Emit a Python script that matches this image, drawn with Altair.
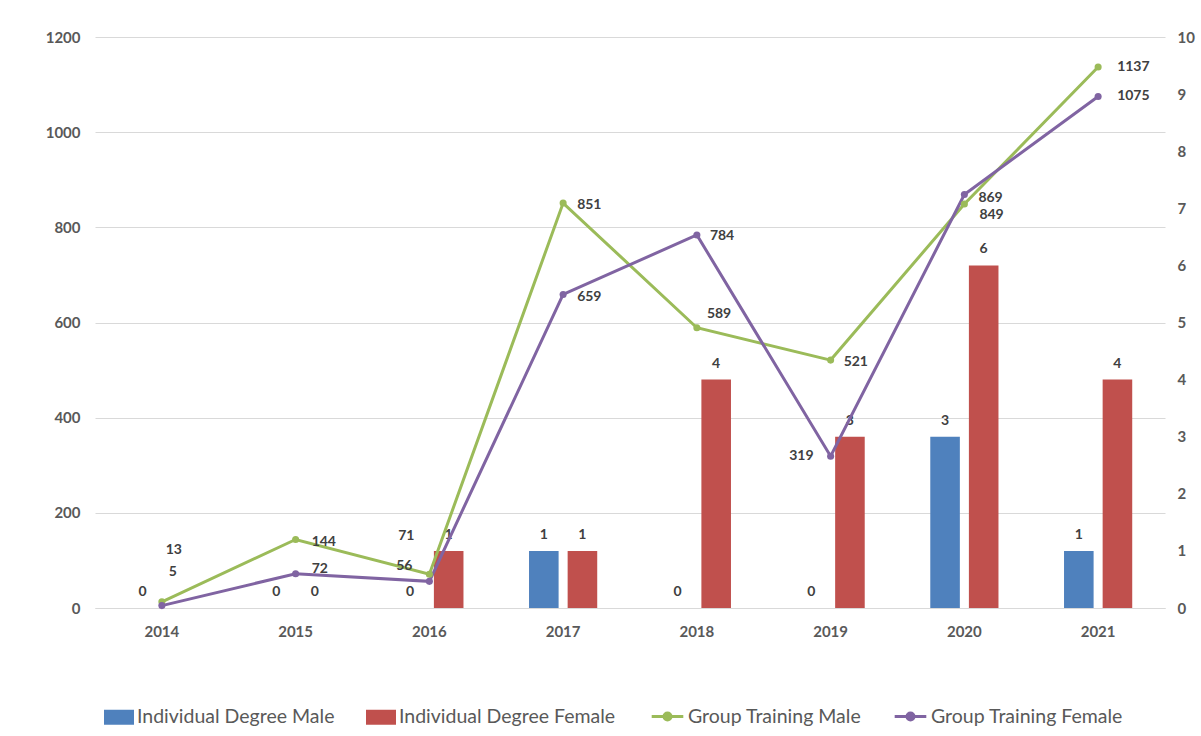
import altair as alt
import pandas as pd

years = ["2014", "2015", "2016", "2017", "2018", "2019", "2020", "2021"]
ind_male = [0, 0, 0, 1, 0, 0, 3, 1]
ind_female = [0, 0, 1, 1, 4, 3, 6, 4]
grp_male = [13, 144, 71, 851, 589, 521, 849, 1137]
grp_female = [5, 72, 56, 659, 784, 319, 869, 1075]

bar_series = ["Individual Degree Male", "Individual Degree Female"]
line_series = ["Group Training Male", "Group Training Female"]

bars_df = pd.DataFrame(
    [{"year": y, "series": bar_series[0], "gender": "Male", "value": v} for y, v in zip(years, ind_male)]
    + [{"year": y, "series": bar_series[1], "gender": "Female", "value": v} for y, v in zip(years, ind_female)]
)
lines_df = pd.DataFrame(
    [{"year": y, "series": line_series[0], "value": v} for y, v in zip(years, grp_male)]
    + [{"year": y, "series": line_series[1], "value": v} for y, v in zip(years, grp_female)]
)

FONT = "Lato"
TXT = "#404040"
AX = "#595959"

xscale = alt.Scale(paddingInner=0.4, paddingOuter=0.2)
xenc = alt.X("year:N", scale=xscale, sort=years,
             axis=alt.Axis(title=None, labelAngle=0, ticks=False, domain=True, domainColor="#D9D9D9",
                           labelFont=FONT, labelFontSize=15, labelFontWeight="bold", labelColor=AX,
                           labelPadding=16))
xoff = alt.XOffset("gender:N", sort=["Male", "Female"],
                   scale=alt.Scale(paddingInner=0.234, paddingOuter=0.156))

right_axis = alt.Axis(orient="right", title=None, grid=False, ticks=False, domain=False,
                      values=list(range(0, 11)), format="d", labelFont=FONT, labelFontSize=15,
                      labelFontWeight="bold", labelColor=AX, labelPadding=12)
yr = alt.Y("value:Q", scale=alt.Scale(domain=[0, 10], nice=False), axis=right_axis)

left_axis = alt.Axis(orient="left", title=None, grid=True, gridColor="#D9D9D9", ticks=False,
                     domain=False, values=list(range(0, 1201, 200)), format="d", labelFont=FONT,
                     labelFontSize=15, labelFontWeight="bold", labelColor=AX, labelPadding=15)
yl = alt.Y("value:Q", scale=alt.Scale(domain=[0, 1200], nice=False), axis=left_axis)

bar_color = alt.Color("series:N", scale=alt.Scale(domain=bar_series, range=["#4F81BD", "#C0504D"]),
                      legend=alt.Legend(title=None, orient="none", direction="horizontal",
                                        legendX=9, legendY=665,
                                        symbolType="M-1,-0.5H1V0.5H-1Z", symbolSize=900,
                                        symbolStrokeWidth=0, labelFont=FONT, labelFontSize=19.5,
                                        labelColor=AX, labelOffset=3, columnPadding=31,
                                        labelLimit=0))

bar = alt.Chart(bars_df).mark_bar().encode(x=xenc, xOffset=xoff, y=yr, color=bar_color)
bar_text = alt.Chart(bars_df).transform_filter(
    "!(datum.year == '2014' && datum.gender == 'Female')"
).mark_text(font=FONT, fontSize=14, fontWeight="bold", color=TXT, dy=-16).encode(
    x=xenc, xOffset=xoff, y=yr, text="value:Q")
bars_layer = alt.layer(bar, bar_text)

line_color = alt.Color("series:N", scale=alt.Scale(domain=line_series, range=["#9BBB59", "#8064A2"]),
                       legend=alt.Legend(title=None, orient="none", direction="horizontal",
                                         legendX=555, legendY=662,
                                         symbolType="M-1,0H1M-0.22,0A0.22,0.22,0,1,1,0.22,0A0.22,0.22,0,1,1,-0.22,0Z",
                                         symbolSize=1000, symbolStrokeWidth=3,
                                         labelFont=FONT, labelFontSize=19.5, labelColor=AX,
                                         labelOffset=3, columnPadding=26, labelLimit=0))

line = alt.Chart(lines_df).mark_line(strokeWidth=3, point=alt.OverlayMarkDef(size=50, filled=True)).encode(
    x=xenc, y=yl, color=line_color,
    order=alt.Order("year:N"))

# label nudges (style only): series, year -> (align, dx, dy)
nudges = {
    ("Group Training Male", "2014"): ("center", 12, -52),
    ("Group Training Male", "2015"): ("left", 16, 3),
    ("Group Training Male", "2016"): ("right", -15, -38),
    ("Group Training Male", "2017"): ("left", 14, 2),
    ("Group Training Male", "2018"): ("left", 10, -14),
    ("Group Training Male", "2019"): ("left", 13, 2),
    ("Group Training Male", "2020"): ("left", 15, 11),
    ("Group Training Male", "2021"): ("left", 19, 0),
    ("Group Training Female", "2014"): ("center", 11, -34),
    ("Group Training Female", "2015"): ("left", 16, -5),
    ("Group Training Female", "2016"): ("right", -17, -15),
    ("Group Training Female", "2017"): ("left", 14, 3),
    ("Group Training Female", "2018"): ("left", 13, 1),
    ("Group Training Female", "2019"): ("right", -17, 0),
    ("Group Training Female", "2020"): ("left", 14, 3),
    ("Group Training Female", "2021"): ("left", 19, 0),
}

line_layers = [line]
for (s, y), (al, dx, dy) in nudges.items():
    line_layers.append(
        alt.Chart(lines_df).transform_filter(
            f"datum.series == '{s}' && datum.year == '{y}'"
        ).mark_text(font=FONT, fontSize=14, fontWeight="bold", color=TXT, align=al,
                    baseline="middle", dx=dx, dy=dy).encode(x=xenc, y=yl, text="value:Q")
    )
lines_layer = alt.layer(*line_layers)

chart = alt.layer(bars_layer, lines_layer).resolve_scale(
    y="independent", color="independent"
).properties(
    width=1070, height=571,
    autosize=alt.AutoSizeParams(type="none"),
    padding={"left": 95, "top": 37, "right": 36, "bottom": 128},
    background="white",
).configure_view(stroke=None)

chart.save("out.html", embed_options={"renderer": "svg", "actions": False})
